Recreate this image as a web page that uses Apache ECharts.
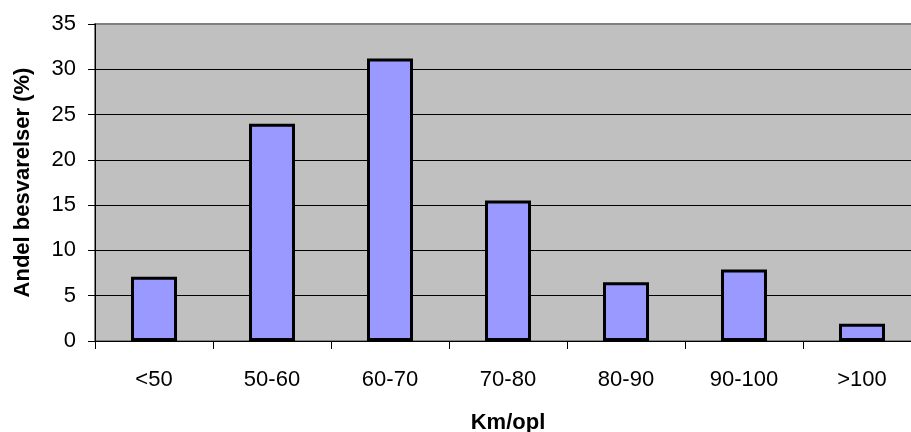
<!DOCTYPE html>
<html>
<head>
<meta charset="utf-8">
<script src="https://cdn.jsdelivr.net/npm/echarts@6/dist/echarts.min.js"></script>
<style>html,body{margin:0;padding:0;background:#fff;overflow:hidden;width:911px;height:432px}#c{width:921px;height:432px}</style>
</head>
<body>
<div id="c"></div>
<script>
const categories = ['<50', '50-60', '60-70', '70-80', '80-90', '90-100', '>100'];
const values = [7.1, 24, 31.2, 15.5, 6.5, 7.9, 1.9];
const yTicks = [0, 5, 10, 15, 20, 25, 30, 35];

const chart = echarts.init(document.getElementById('c'), null, {renderer: 'canvas'});
const font = 'Liberation Sans, Arial, sans-serif';
chart.setOption({
  animation: false,
  grid: {
    left: 95, right: 0, top: 24, bottom: 91,
    outerBoundsMode: 'none',
    containLabel: false,
    show: true, backgroundColor: '#c0c0c0', borderColor: '#808080', borderWidth: 2
  },
  xAxis: {
    type: 'category',
    data: categories,
    boundaryGap: true,
    name: 'Km/opl',
    nameLocation: 'middle',
    nameGap: 71,
    nameTextStyle: {fontFamily: font, fontSize: 22, fontWeight: 'bold', color: '#000'},
    axisLine: {lineStyle: {color: '#000', width: 1}},
    axisTick: {show: true, alignWithLabel: false, length: 8, lineStyle: {color: '#000'}},
    axisLabel: {fontFamily: font, fontSize: 22, color: '#000', margin: 28, interval: 0}
  },
  yAxis: {
    type: 'value',
    min: yTicks[0],
    max: yTicks[yTicks.length - 1],
    interval: 5,
    name: 'Andel besvarelser (%)',
    nameLocation: 'middle',
    nameGap: 61,
    nameTextStyle: {fontFamily: font, fontSize: 22, fontWeight: 'bold', color: '#000'},
    axisLine: {show: true, lineStyle: {color: '#000', width: 1}},
    axisTick: {show: true, length: 7, inside: false, lineStyle: {color: '#000'}},
    axisLabel: {fontFamily: font, fontSize: 22, color: '#000', margin: 19},
    splitLine: {show: true, lineStyle: {color: ['#000','#000','#000','#000','#000','#000','#000','#808080'], width: 1}}
  },
  series: [{
    type: 'bar',
    data: values,
    barWidth: 46,
    itemStyle: {color: '#9999ff', borderColor: '#000', borderWidth: 3}
  }]
});
</script>
</body>
</html>
